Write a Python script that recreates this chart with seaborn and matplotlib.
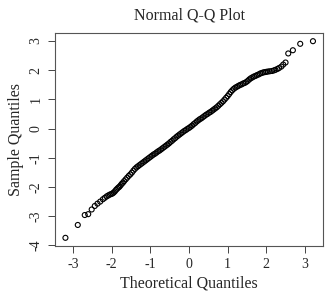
import matplotlib as mpl
mpl.use('Agg')
from matplotlib import pyplot as plt
import seaborn as sns
import pandas as pd

sns.set_theme(style="white")
plt.rcParams['font.family'] = ['Liberation Serif', 'DejaVu Serif']

# points (theoretical, sample)
theo_lo = [-3.20, -2.88, -2.70, -2.61, -2.52, -2.44, -2.37, -2.30, -2.23, -2.18,
           -2.13, -2.09, -2.05, -2.01, -1.98, -1.95, -1.92, -1.89, -1.86, -1.83,
           -1.80, -1.77, -1.74, -1.71]
samp_lo = [-3.74, -3.30, -2.96, -2.93, -2.77, -2.65, -2.57, -2.50, -2.42, -2.37,
           -2.32, -2.29, -2.26, -2.24, -2.22, -2.19, -2.15, -2.10, -2.06, -2.02,
           -1.99, -1.94, -1.89, -1.85]

theo_mid = [-1.68, -1.64, -1.60, -1.56, -1.52, -1.48, -1.44, -1.40, -1.36, -1.32,
            -1.28, -1.24, -1.20, -1.16, -1.12, -1.08, -1.04, -1.00, -0.96, -0.92,
            -0.88, -0.84, -0.80, -0.76, -0.72, -0.68, -0.64, -0.60, -0.56, -0.52,
            -0.48, -0.44, -0.40, -0.36, -0.32, -0.28, -0.24, -0.20, -0.16, -0.12,
            -0.08, -0.04, 0.00, 0.04, 0.08, 0.12, 0.16, 0.20, 0.24, 0.28,
            0.32, 0.36, 0.40, 0.44, 0.48, 0.52, 0.56, 0.60, 0.64, 0.68,
            0.72, 0.76, 0.80, 0.84, 0.88, 0.92, 0.96, 1.00, 1.04, 1.08,
            1.12, 1.16, 1.20, 1.24, 1.28, 1.32, 1.36, 1.40, 1.44, 1.48,
            1.52, 1.56, 1.60, 1.64, 1.68, 1.72, 1.76, 1.80, 1.84, 1.88,
            1.92, 1.96, 2.00, 2.04]
samp_mid = [-1.80, -1.74, -1.68, -1.62, -1.57, -1.51, -1.44, -1.38, -1.33, -1.29,
            -1.25, -1.21, -1.17, -1.13, -1.09, -1.05, -1.01, -0.97, -0.93, -0.89,
            -0.86, -0.82, -0.78, -0.75, -0.71, -0.67, -0.63, -0.59, -0.55, -0.51,
            -0.46, -0.42, -0.37, -0.33, -0.28, -0.24, -0.20, -0.16, -0.12, -0.08,
            -0.05, -0.01, 0.02, 0.06, 0.10, 0.15, 0.19, 0.24, 0.28, 0.32,
            0.35, 0.39, 0.43, 0.47, 0.50, 0.54, 0.57, 0.61, 0.65, 0.69,
            0.73, 0.78, 0.83, 0.88, 0.93, 0.99, 1.05, 1.11, 1.18, 1.25,
            1.31, 1.36, 1.40, 1.43, 1.46, 1.49, 1.51, 1.54, 1.56, 1.59,
            1.63, 1.68, 1.72, 1.75, 1.78, 1.80, 1.83, 1.85, 1.88, 1.90,
            1.92, 1.93, 1.94, 1.95]

theo_hi = [2.09, 2.15, 2.20, 2.24, 2.29, 2.33, 2.39, 2.44, 2.50, 2.57, 2.69, 2.88, 3.21]
samp_hi = [1.96, 1.97, 1.99, 2.01, 2.04, 2.07, 2.12, 2.19, 2.26, 2.57, 2.68, 2.90, 2.99]

df = pd.DataFrame({
    "theoretical": theo_lo + theo_mid + theo_hi,
    "sample": samp_lo + samp_mid + samp_hi,
})

fig = plt.figure(figsize=(3.3, 2.98), dpi=100)
ax = fig.add_axes([55/330, 1-246/298, 268/330, 213/298])

sns.scatterplot(data=df, x="theoretical", y="sample", ax=ax, marker='o', s=13,
                facecolor='none', edgecolor='black', linewidth=0.8)

ax.set_xlim(-3.47, 3.47)
ax.set_ylim(-4.02, 3.27)
ax.set_xticks([-3, -2, -1, 0, 1, 2, 3])
ax.set_yticks([-4, -3, -2, -1, 0, 1, 2, 3])
ax.set_xticklabels(["-3", "-2", "-1", "0", "1", "2", "3"], fontsize=10)
ax.set_yticklabels(["-4", "-3", "-2", "-1", "0", "1", "2", "3"], fontsize=10,
                   rotation=90, va='center')
ax.tick_params(axis='both', length=5, width=0.7, color='#444444', direction='out',
               bottom=True, left=True, pad=4)
for s in ax.spines.values():
    s.set_color('#555555')
    s.set_linewidth(0.8)

ax.set_xlabel("Theoretical Quantiles", fontsize=11.5, labelpad=3)
ax.set_ylabel("Sample Quantiles", fontsize=11.5, labelpad=4)
ax.set_title("Normal Q-Q Plot", fontsize=11.5, pad=10)

fig.savefig('out.png', dpi=100)
